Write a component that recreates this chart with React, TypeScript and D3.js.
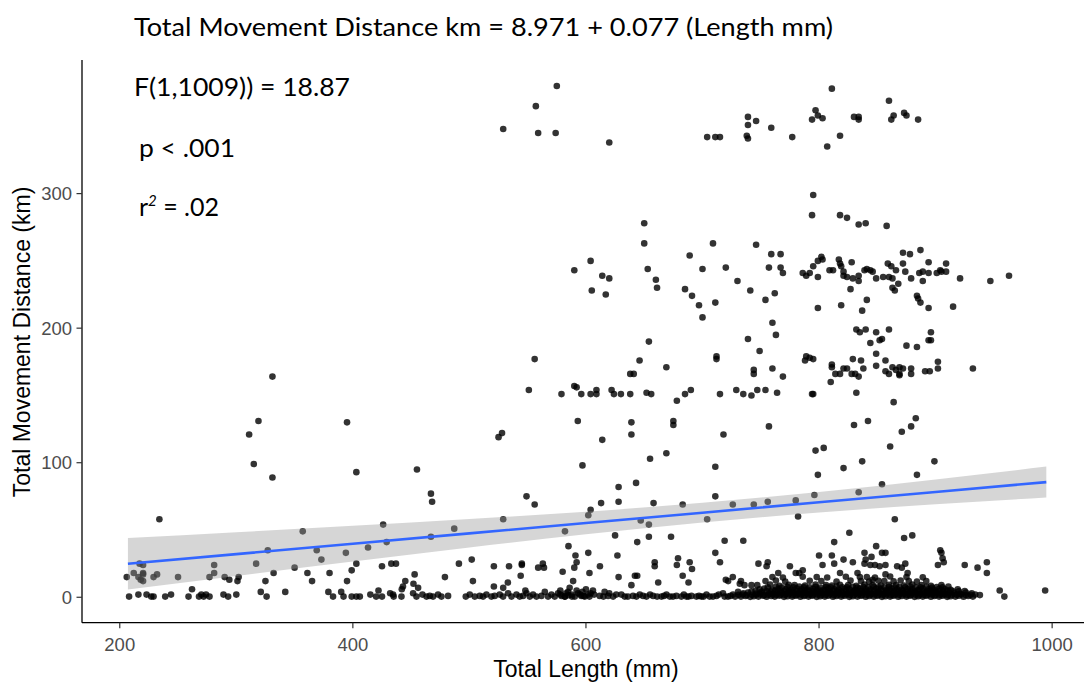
import React from 'react';
import * as d3 from 'd3';

const xTicks = [200, 400, 600, 800, 1000];
const yTicks = [0, 100, 200, 300];
const fitIntercept = 8.971;
const fitSlope = 0.077;
const bandLength = [207, 300, 400, 500, 600, 700, 800, 900, 995];
const bandLower = [5.8, 15.9, 26.5, 36.9, 46.8, 55.6, 63.0, 69.1, 74.1];
const bandUpper = [44.0, 48.3, 53.1, 58.1, 63.6, 70.2, 78.2, 87.5, 97.1];

const topPoints = [
  [575,380],[557,365],[529,348],[559,345],[574,345],[620,338],[704,342],[711,342],[715,342],[739,357],[739,351],[746,354],[738,343],[739,341],[759,349],[811,378],[860,369],[777,342],[797,362],[799,358],[803,356],[794,355],[818,343],[807,335],[830,357],[834,357],[834,355],[864,358],[862,355],[873,360],[875,358],[885,355],[795,299],[794,284],[818,284],[824,282],[834,277],[840,278],[858,276],[650,278],[650,263],[709,263],[746,262],[759,255],[767,255],[872,256],[878,255],[887,258],[689,254],[604,250]
];

const upperPoints = [
  [590,243],[614,239],[620,237],[605,228],[617,225],[653,244],[660,236],[661,230],[700,244],[720,245],[685,229],[691,224],[697,217],[700,208],[711,219],[730,235],[741,228],[757,245],[762,226],[754,221],[760,204],[763,195],[739,192],[749,183],[760,170],[744,169],[744,166],[712,179],[712,177],[654,190],[646,176],[669,171],[638,166],[641,166],[556,177],[767,245],[769,241],
  [786,241],[789,239],[792,241],[795,246],[799,250],[802,253],[803,251],[799,238],[809,243],[812,243],[817,251],[818,248],[819,246],[821,242],[821,239],[824,238],[828,249],[829,237],[834,239],[834,235],[839,243],[841,244],[844,243],[846,242],[849,237],[855,238],[859,248],[860,238],[862,246],[863,237],[866,243],[872,248],[874,242],[879,237],[886,241],[889,242],[889,235],[894,249],[894,241],[901,241],[904,243],[905,242],[909,248],[909,242],[921,237],[947,235],[963,239],
  [799,215],[819,217],[841,221],[837,213],[827,229],[865,228],[863,230],[868,233],[884,224],[885,222],[887,219],[894,215],[915,216],
  [832,199],[835,197],[840,199],[849,197],[860,199],[844,189],[852,191],[854,192],[875,187],[884,186],[896,197],[894,191],[896,191],
  [849,181],[789,179],[792,178],[788,176],[795,177],[811,173],[811,171],[814,166],[818,166],[821,170],[824,170],[828,166],[829,177],[831,166],[836,176],[834,164],[838,170],[849,172],[857,176],[857,168],[860,166],[863,171],[866,169],[869,171],[869,166],[869,165],[872,170],[879,170],[879,166],[891,168],[895,168],[902,175],[902,170],[932,170],[769,164]
];

const middlePoints = [
  [551,154],[590,157],[592,156],[579,151],[596,151],[604,151],[609,154],[609,151],[622,154],[624,151],[630,151],[638,151],[652,152],[656,151],[678,146],[685,151],[690,154],[715,151],[729,154],[735,151],[742,150],[747,154],[754,154],[764,152],[810,160],[794,151],[795,151],[832,152],[864,145],
  [593,131],[639,130],[639,121],[675,131],[675,128],[614,117],[718,121],[757,127],[525,119],[528,122],[669,107],[655,103],[830,128],[842,131],[871,123],[879,127],[883,133],[797,109],[804,111],[861,112],
  [331,164],[319,131],[311,121],[315,99],[331,89],[395,130],[403,93],[455,95],
  [467,77],[468,71],[467,45],[487,51],[529,58],[549,75],[556,69],[582,49],[597,98],[602,61],[604,65],[613,70],[625,46],[628,82],[628,71],[643,85],[647,57],[654,54],[654,45],[658,70],[673,45],[683,69],[704,58],[711,97],[711,75],[726,69],
  [744,69],[756,71],[780,72],[782,60],[796,76],[799,91],[821,96],[837,101],[834,78],[854,84],[865,58],[884,91],[899,101],
  [234,58],[357,49],[426,54],
  [429,41],[413,37],[394,33],[327,35],[369,35],[585,38],[591,31],[602,33],[627,31],[644,41],[719,42],[735,42],[711,33],[873,44],[880,46],[826,48],[813,41],[800,31],[811,31],[839,33],[845,30],[849,38],[854,33],[857,33],[904,35],[905,33],[906,29]
];

const lowPoints = [
  [373,28],[317,25],[281,24],[281,18],[277,15],[290,15],[294,13],[302,15],[301,12],[332,18],[325,12],[350,22],[361,18],[365,12],[380,18],[395,12],[399,20],[403,25],[425,23],[433,25],[437,25],[250,15],[206,15],[212,18],[217,25],[220,24],[216,15],[218,13],[220,12],[220,18],[220,17],[229,15],[232,17],
  [491,25],[502,28],[503,12],[479,15],[453,17],[452,10],[445,12],[521,23],[534,23],[533,11],[545,25],[545,24],[544,16],[559,22],[563,25],[564,22],[580,19],[592,26],[590,22],[589,12],[603,18],[612,23],[628,15],[642,16],[644,16],[659,26],[659,23],[662,11],[679,29],[678,24],[683,16],[688,11],[689,26],[691,21],[715,26],[726,15],[722,12],[720,13],[732,10],[733,12],[736,9],[742,9],
  [748,25],[756,26],[755,23],[765,18],[775,23],[780,18],[786,20],[783,18],[803,24],[813,25],[821,28],[829,26],[818,18],[833,18],[840,28],[857,24],[839,25],[844,24],[848,24],[852,23],[841,15],[846,13],[857,17],[867,23],[871,22],[874,25],[876,18],[902,24],[907,26],[925,24],[936,22],[944,26],[944,18],
  [262,6],[443,8],[442,6],[456,7],[521,8],[529,7],[639,9],[955,5],[959,0.5],[994,5],
  [578,5],[583,3],[586,7],[592,5],[597,4],[600,6],[604,3],[606,5],[548,5],[616,4],[620,3]
];

const floorPoints = [
  [208,0.5],[216,2],[223,2],[227,0.5],[229,0.5],[239,0.5],[244,2],[259,0.5],[268,0.5],[270,2],[272,0.5],[274,2],[277,0.5],[289,2],[293,0.5],[300,2],[321,4],[326,0.5],[342,4],[379,4],[383,0.5],[390,4],[392,0.5],[399,0.5],[403,0.5],[406,0.5],[415,2],[420,0.5],[422,5],[425,0.5],[432,3],[435,0.5],
  [434.5,2],[441.7,0.5],[451.7,3],[454.6,0.5],[459.7,2],[463.2,0.5],[466,1],[468.8,0.5],[473.1,2],[476,0.5],[481.7,1],[496.9,0.5],[500.3,2],[504.6,0.5],[508.9,1],[511.7,0.5],[514.6,2],[518.9,0.5],[521.7,1],[526,2],[528.9,0.5],[533.2,3],[536.1,0.5],[540.4,2],[543.2,0.5],[546,1],[549,3],[551.8,0.5],[554.6,2],[557.5,0.5],[561.8,1],[564.7,4],[567.5,0.5],[570.4,2],[573.2,0.5],[576.1,3],[579,1],[581.8,0.5],[584.6,4],[587.6,2],[590.4,0.5],[593.2,3],[596.1,1],[599,0.5],[601.8,2],[611.8,1],[623.3,0.5],[630.4,2],[633.3,0.5],[640.4,1],[643.3,0.5],[646.2,2],[651.9,0.5],[657.6,1],[664.8,0.5],[669.1,2],[674.7,0.5],[677.6,1],[681.9,0.5],[686.2,0.5],[690.5,1],[694.8,0.5],[699.1,0.5],[703.4,2],[706.2,0.5],[709,0.5],[712,1],[717.6,3],[721.9,0.5],[726.2,2],[730.5,4],
  [578,2],[582,0.5],[585,1.5],[588,0.5],[595,2],[598,1],[603,0.5],[607,2],[615,0.5],[619,1],[626,2],[636,0.5],[649,1],[655,2],[661,0.5],[667,1],[672,0.5],[684,2],[688,0.5],[697,1],[701,0.5],[714,2],[719,0.5],[724,1],[728,0.5]
];

const bandPoints = [
  [733,0.5],[737,1],[741,0.3],[744,0.8],[748,0.5],[752,1.2],[755,0.4],[759,0.9],[762,0.5],[766,1.1],[770,0.3],[773,0.8],[777,0.5],[780,1.2],[784,0.4],[787,0.9],[791,0.5],[794,1.1],[798,0.3],[801,0.8],[805,0.5],[808,1.2],[812,0.4],[815,0.9],[819,0.5],[822,1.1],[826,0.3],[829,0.8],[833,0.5],[836,1.2],[840,0.4],[843,0.9],[847,0.5],[850,1.1],[854,0.3],[857,0.8],[861,0.5],[864,1.2],[868,0.4],[871,0.9],[875,0.5],[878,1.1],[882,0.3],[885,0.8],[889,0.5],[892,1.2],[896,0.4],[899,0.9],[903,0.5],[906,1.1],[910,0.3],[913,0.8],[917,0.5],[920,1.2],[924,0.4],[928,0.9],[932,0.5],
  [731,1.8],[734.5,2],[738,1.6],[742.5,1.9],[746,1.8],[749.5,2.1],[753,1.7],[756.5,1.8],[760,2],[763.5,1.6],[767,1.9],[770.5,1.8],[774,2.1],[777.5,1.7],[781,1.8],[784.5,2],[788,1.6],[791.5,1.9],[795,1.8],[798.5,2.1],[802,1.7],[805.5,1.8],[809,2],[812.5,1.6],[816,1.9],[819.5,1.8],[823,2.1],[826.5,1.7],[830,1.8],[833.5,2],[837,1.6],[840.5,1.9],[844,1.8],[847.5,2.1],[851,1.7],[854.5,1.8],[858,2],[861.5,1.6],[865,1.9],[868.5,1.8],[872,2.1],[875.5,1.7],[879,1.8],[882.5,2],[886,1.6],[889.5,1.9],[893,1.8],[896.5,2.1],[900,1.7],[903.5,1.8],[907,2],[910.5,1.6],[914,1.9],[918,1.8],[922,2.1],[926,1.7],[930,1.8],[934,2],[938,1.6],
  [735,3],[739,3.5],[746,2.8],[750,3.4],[757,3],[761,2.6],[764,3.5],[768,3],[772,2.8],[775,3.6],[779,3],[782,2.7],[786,3.4],[789,3],[793,2.6],[796,3.5],[800,3],[803,2.8],[807,3.6],[810,3],[814,2.7],[817,3.4],[821,3],[824,2.6],[828,3.5],[831,3],[835,2.8],[838,3.6],[842,3],[845,2.7],[849,3.4],[852,3],[856,2.6],[859,3.5],[863,3],[866,2.8],[870,3.6],[873,3],[877,2.7],[880,3.4],[884,3],[887,2.6],[891,3.5],[894,3],[898,2.8],[901,3.6],[905,3],[908,2.7],[912,3.4],[916,3],[921,2.6],[926,3.5],[931,3],
  [742,4.5],[745.5,4.8],[751,4.3],[755,4.6],[758.5,4.5],[762.5,4.9],[767,4.4],[770,4.5],[774,4.7],[777,4.3],[781,4.6],[784,4.5],[788,4.9],[791,4.4],[794.5,4.5],[798,4.7],[801.5,4.3],[805,4.6],[809,4.5],[812,4.9],[815.5,4.4],[819,4.5],[823,4.7],[826,4.3],[830,4.6],[833,4.5],[836.5,4.9],[840,4.4],[843.5,4.5],[847,4.7],[851,4.3],[854,4.6],[857.5,4.5],[861,4.9],[864.5,4.4],[868,4.5],[872,4.7],[875,4.3],[878.5,4.6],[882,4.5],[885.5,4.9],[889,4.4],[893,4.5],[896,4.7],[899.5,4.3],[903,4.6],[906.5,4.5],[910,4.9],[915,4.4],[920,4.5],[925,4.7],
  [749,6],[753,6.5],[760,5.6],[765,6.2],[771,6],[776,5.5],[781,6.4],[785,6],[790,5.7],[795,6.3],[799,6],[804,5.5],[808,6.5],[813,6],[817,5.6],[822,6.2],[826,6],[831,5.5],[835,6.4],[840,6],[844,5.7],[849,6.3],[853,6],[858,5.5],[862,6.5],[867,6],[871,5.6],[876,6.2],[880,6],[885,5.5],[889,6.4],[894,6],[898,5.7],[903,6.3],[908,6],[913,5.5],[919,6],
  [756,7.5],[763,7.8],[768,7.3],[773,7.6],[778,7.5],[783,7.9],[787,7.4],[792,7.5],[797,7.7],[801,7.3],[806,7.6],[810,7.5],[815,7.9],[820,7.4],[824,7.5],[829,7.7],[833,7.3],[838,7.6],[842,7.5],[847,7.9],[851,7.4],[856,7.5],[860,7.7],[865,7.3],[869,7.6],[874,7.5],[878,7.9],[883,7.4],[887,7.5],[892,7.7],[897,7.3],[901,7.6],[906,7.5],[911,7.9],
  [747,9],[758,9.5],[766,8.6],[774,9.2],[779,9],[788,8.7],[797,9.4],[806,9],[811,8.8],[818,9.3],[825,9],[832,8.6],[839,9.5],[846,9],[853,8.7],[860,9.2],[866,9],[873,8.8],[880,9.4],[888,9],[896,8.6],[905,9],
  [754,12],[763,12.5],[771,11.6],[792,12.2],[802,12],[815,11.7],[827,12.4],[836,12],[843,11.6],[851,12.3],[856,12],[864,11.8],[870,12.5],[877,12],[884,11.6],[892,12],
  [760,15],[769,14.6],[786,15.3],[798,15],[807,14.7],[823,15.2],[835,15],[848,14.6],[861,15.4],[875,15],[889,14.8]
];

const allPoints = [...floorPoints, ...bandPoints, ...lowPoints, ...middlePoints, ...upperPoints, ...topPoints];

export default function App() {
  const W = 1084;
  const H = 686;
  const x = d3.scaleLinear().domain([167.6, 1034.2]).range([82, 1092]);
  const y = d3.scaleLinear().domain([-18.9, 399.3]).range([622.7, 60]);

  const area = d3.area<number>()
    .x((_, i) => x(bandLength[i]))
    .y0((_, i) => y(bandLower[i]))
    .y1((_, i) => y(bandUpper[i]))
    .curve(d3.curveMonotoneX);
  const line = d3.line<number>()
    .x((d) => x(d))
    .y((d) => y(fitIntercept + fitSlope * d));

  const axisLeft = 82;
  const axisBottom = 622.7;
  const tickColor = '#333333';
  const labelColor = '#4D4D4D';
  const fontAxis = '"Liberation Sans", Arial, sans-serif';
  const fontNote = 'Lato, "Open Sans", sans-serif';

  return (
    <svg width={W} height={H} style={{ position: 'absolute', left: 0, top: 0, background: '#fff' }}>
      <rect x={0} y={0} width={W} height={H} fill="#ffffff" />
      <g>
        {allPoints.map((p, i) => (
          <circle key={i} cx={x(p[0])} cy={y(p[1])} r={3.3} fill="#000000" fillOpacity={0.8} />
        ))}
      </g>
      <path d={area(bandLength) || ''} fill="#999999" fillOpacity={0.4} />
      <path d={line(bandLength) || ''} fill="none" stroke="#3366FF" strokeWidth={2.6} />

      <line x1={axisLeft} x2={axisLeft} y1={60} y2={axisBottom} stroke="#000" strokeWidth={1.3} />
      <line x1={axisLeft} x2={W} y1={axisBottom} y2={axisBottom} stroke="#000" strokeWidth={1.3} />
      {yTicks.map((t) => (
        <g key={'y' + t}>
          <line x1={axisLeft - 5.5} x2={axisLeft} y1={y(t)} y2={y(t)} stroke={tickColor} strokeWidth={1.2} />
          <text x={axisLeft - 10} y={y(t)} dy="0.35em" textAnchor="end" fontFamily={fontAxis} fontSize={18.5} fill={labelColor}>{t}</text>
        </g>
      ))}
      {xTicks.map((t) => (
        <g key={'x' + t}>
          <line x1={x(t)} x2={x(t)} y1={axisBottom} y2={axisBottom + 5.5} stroke={tickColor} strokeWidth={1.2} />
          <text x={x(t)} y={axisBottom + 22} dy="0.35em" textAnchor="middle" fontFamily={fontAxis} fontSize={18.5} fill={labelColor}>{t}</text>
        </g>
      ))}
      <text x={586} y={677} textAnchor="middle" fontFamily={fontAxis} fontSize={23} fill="#000">Total Length (mm)</text>
      <text transform="translate(30,342) rotate(-90)" textAnchor="middle" fontFamily={fontAxis} fontSize={23} fill="#000">Total Movement Distance (km)</text>

      <text x={134} y={36} fontFamily={fontNote} fontSize={25} fill="#000" textLength={699} lengthAdjust="spacingAndGlyphs">Total Movement Distance km = 8.971 + 0.077 (Length mm)</text>
      <text x={134} y={96} fontFamily={fontNote} fontSize={25} fill="#000" textLength={216} lengthAdjust="spacingAndGlyphs">F(1,1009)) = 18.87</text>
      <text x={139} y={157} fontFamily={fontNote} fontSize={25} fill="#000" textLength={96} lengthAdjust="spacingAndGlyphs">p &lt; .001</text>
      <text x={139} y={216} fontFamily={fontNote} fontSize={25} fill="#000">
        r<tspan dy={-10} fontSize={15} fontStyle="italic">2</tspan><tspan dy={10}> = .02</tspan>
      </text>
    </svg>
  );
}
